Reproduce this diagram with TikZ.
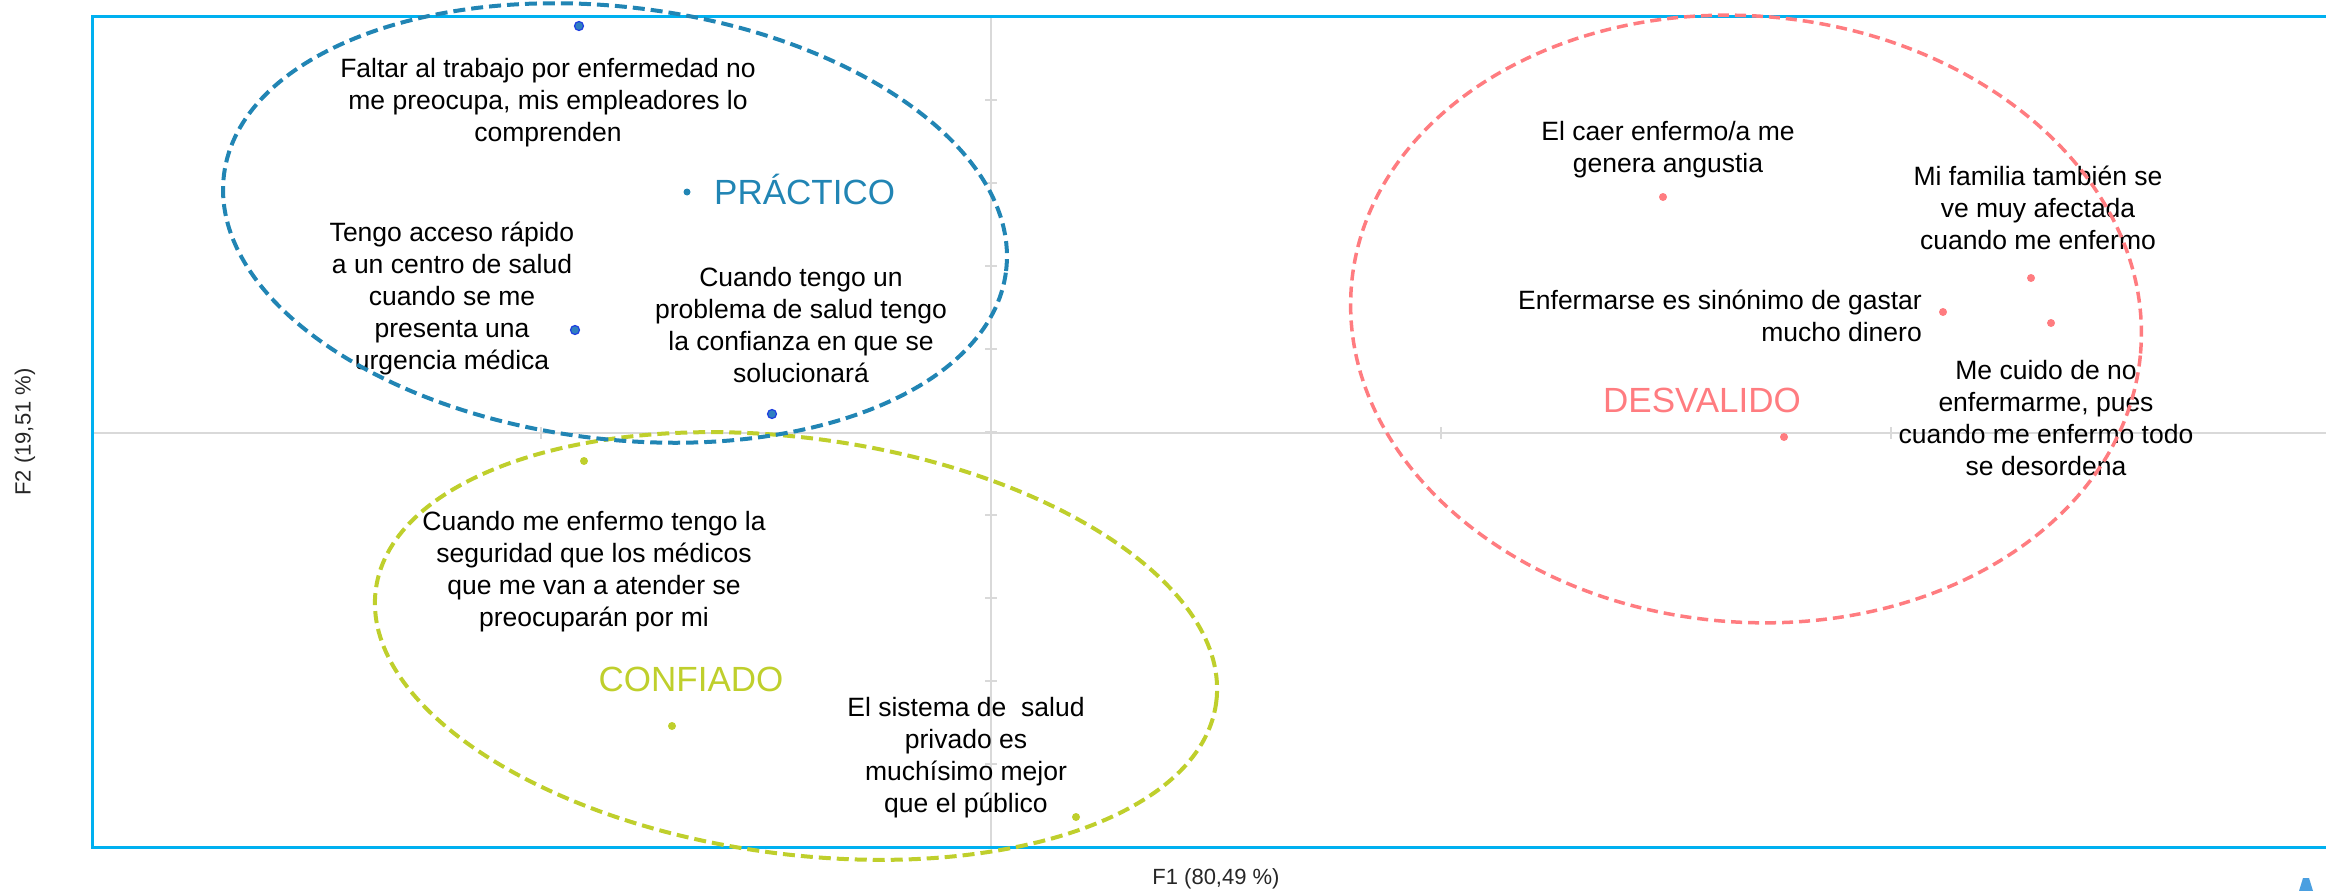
\documentclass[tikz,border=0pt]{standalone}
\usepackage{fontspec}
\setmainfont{Liberation Sans}
\definecolor{framecol}{HTML}{00B0F0}
\definecolor{axisgray}{HTML}{D9D9D9}
\definecolor{pblue}{HTML}{2185B4}
\definecolor{pdot}{HTML}{2F7FC0}
\definecolor{pring}{HTML}{1F3FE0}
\definecolor{cgreen}{HTML}{BFCF2C}
\definecolor{dred}{HTML}{FF7C80}
\definecolor{iconblue}{HTML}{4A9FE0}
\begin{document}
\begin{tikzpicture}[x=1pt,y=-1pt,
  lbl/.style={font=\fontsize{26.5}{32}\selectfont, align=center, inner sep=0pt, text=black},
  cat/.style={font=\fontsize{35}{40}\selectfont, inner sep=0pt},
  axlbl/.style={font=\fontsize{22}{26}\selectfont, inner sep=0pt, text=black!85},
  bdot/.style={circle, fill=pdot, draw=pring, line width=1.2pt, minimum size=9pt, inner sep=0pt},
  cdotb/.style={circle, fill=pblue, minimum size=7pt, inner sep=0pt},
  gdot/.style={circle, fill=cgreen, minimum size=8pt, inner sep=0pt},
  rdot/.style={circle, fill=dred, minimum size=8pt, inner sep=0pt},
  axisline/.style={axisgray, line width=2pt},
  tickline/.style={axisgray, line width=1.5pt},
  ellb/.style={pblue, line width=4pt, dash pattern=on 12pt off 6pt},
  ellg/.style={cgreen, line width=4pt, dash pattern=on 12pt off 6pt},
  ellr/.style={dred, line width=3.5pt, dash pattern=on 11pt off 6pt}
]
\useasboundingbox (0,0) rectangle (2326,891);
\clip (0,0) rectangle (2326,891);
% axes
\draw[axisline] (991,17) -- (991,847);
\draw[axisline] (92,433) -- (2326,433);
\foreach \i in {0,...,10} \draw[tickline] (985,{17+83*\i}) -- (997,{17+83*\i});
\foreach \xx in {541,1441,1891} \draw[tickline] (\xx,427) -- (\xx,439);
% frame
\draw[framecol, line width=3pt] (2340,17) -- (92,17) -- (92,847) -- (2340,847);
% labels
\node[lbl] (t1) at (548,103) {Faltar al trabajo por enfermedad no\\me preocupa, mis empleadores lo\\comprenden};
\node[lbl] (t2) at (452,298) {Tengo acceso rápido\\a un centro de salud\\cuando se me\\presenta una\\urgencia médica};
\node[lbl] (t3) at (801,325) {Cuando tengo un\\problema de salud tengo\\la confianza en que se\\solucionará};
\node[lbl] (t4) at (594,572) {Cuando me enfermo tengo la\\seguridad que los médicos\\que me van a atender se\\preocuparán por mi};
\node[lbl] (t5) at (966,758) {El sistema de\ \ salud\\privado es\\muchísimo mejor\\que el público};
\node[lbl] (t6) at (1668,150) {El caer enfermo/a me\\genera angustia};
\node[lbl] (t7) at (2038,208) {Mi familia también se\\ve muy afectada\\cuando me enfermo};
\node[lbl, align=right, anchor=east] (t8) at (1922,316) {Enfermarse es sinónimo de gastar\\mucho dinero};
\node[lbl] (t9) at (2046,418) {Me cuido de no\\enfermarme, pues\\cuando me enfermo todo\\se desordena};
% category labels
\node[cat, text=pblue, anchor=base west] (cP) at (714,204.5) {PRÁCTICO};
\node[cat, text=cgreen, anchor=base] (cC) at (691,691.5) {CONFIADO};
\node[cat, text=dred, anchor=base] (cD) at (1702,412.5) {DESVALIDO};
% axis labels
\node[axlbl] (f1) at (1216,879) {F1 (80,49 \%)};
\node[axlbl, rotate=90] (f2) at (25,432) {F2 (19,51 \%)};
% points
\node[bdot] (p1) at (579,26) {};
\node[bdot] (p2) at (575,330) {};
\node[bdot] (p3) at (772,414) {};
\node[cdotb] (pc) at (687,192) {};
\node[gdot] (g1) at (584,461) {};
\node[gdot] (g2) at (1076,817) {};
\node[gdot] (gc) at (672,726) {};
\node[rdot] (r1) at (1663,197) {};
\node[rdot] (r2) at (2031,278) {};
\node[rdot] (r3) at (1943,312) {};
\node[rdot] (r4) at (2051,323) {};
\node[rdot] (rc) at (1784,437) {};
% ellipses
\draw[ellg, rotate around={-7.7:(796,646)}] (796,646) ellipse [x radius=424pt, y radius=208pt];
\draw[ellb, rotate around={-7:(615,223)}] (615,223) ellipse [x radius=394pt, y radius=216pt];
\draw[ellr, rotate around={-5:(1746,319)}] (1746,319) ellipse [x radius=396pt, y radius=303pt];
% corner icon
\fill[iconblue] (2299,891) -- (2303,878) -- (2309,878) -- (2313,891) -- cycle;
\end{tikzpicture}
\end{document}
